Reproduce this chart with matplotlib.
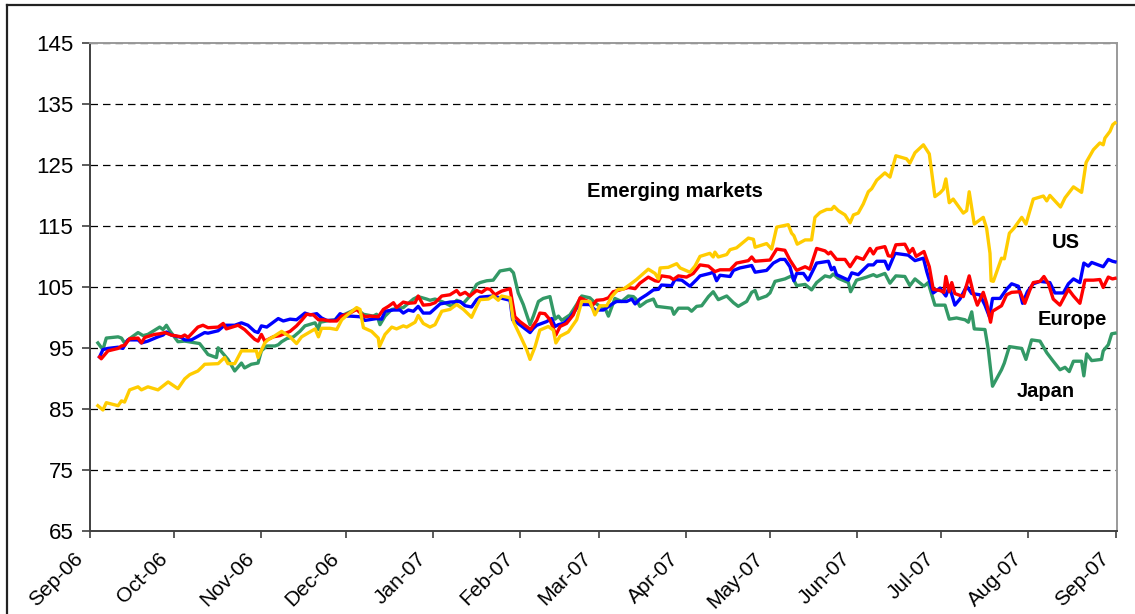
import matplotlib
matplotlib.use("Agg")
import matplotlib.pyplot as plt
import matplotlib.dates as mdates
from matplotlib.lines import Line2D
from matplotlib.transforms import ScaledTranslation
import numpy as np
import datetime as dt

plt.rcParams['font.family'] = ['Liberation Sans', 'DejaVu Sans']

# ---- data: (days since 1 Sep 2006, index value) ----
start_date = dt.datetime(2006, 9, 1)

us = [(3.4,93.5),(4.6,94.7),(6.4,94.9),(10.0,95.1),(11.7,94.9),(13.5,96.3),(17.1,96.3),(18.3,95.8),(20.6,96.1),(24.2,96.8),(26.0,97.1),(27.2,97.6),(28.9,97.1),(32.5,96.7),(33.7,96.3),(36.1,96.3),(39.6,97.2),(40.8,97.5),(42.0,97.4),(45.6,97.8),(47.9,98.7),(51.5,98.7),(53.9,99.1),(56.2,98.7),(58.6,97.7),(59.8,97.5),(61.0,98.6),(62.9,98.4),(67.0,99.8),(68.8,99.4),(71.2,99.7),(73.5,99.6),(76.5,100.7),(78.3,100.4),(80.7,100.6),(82.4,99.9),(84.2,99.5),(87.2,99.5),(89.0,100.6),(90.7,100.2),(92.5,100.2),(96.1,100.1),(97.9,99.5),(102.0,99.8),(103.8,99.7),(105.0,101.0),(108.0,101.2),(110.3,101.2),(111.5,100.7),(113.3,101.2),(115.1,101.0),(116.8,101.8),(118.6,100.7),(121.0,100.7),(124.6,102.2),(128.1,102.5),(131.7,102.6),(133.5,101.9),(135.8,101.7),(137.6,102.9),(138.8,103.3),(143.5,103.5),(145.9,103.2),(149.5,102.8),(150.4,99.6),(151.8,99.2),(156.6,97.5),(157.8,98.2),(159.0,98.7),(162.5,99.3),(164.3,99.8),(165.5,98.5),(166.7,98.8),(168.5,99.0),(170.8,99.9),(173.2,101.5),(174.4,102.1),(177.9,102.1),(179.7,101.2),(182.7,101.2),(186.2,102.3),(187.4,102.6),(191.0,102.6),(192.8,103.0),(194.0,102.2),(195.7,103.0),(198.1,103.7),(200.5,104.5),(202.3,104.6),(203.4,105.3),(207.0,105.2),(208.2,106.2),(210.6,106.1),(213.5,105.1),(215.9,106.2),(217.1,106.8),(220.6,107.2),(221.8,107.4),(223.0,106.0),(224.2,106.9),(227.8,106.7),(229.0,107.7),(231.3,108.1),(235.5,108.5),(236.7,107.4),(240.8,107.7),(243.2,108.9),(245.6,109.5),(247.3,109.5),(249.1,108.3),(250.5,106.0),(251.5,107.2),(253.9,107.2),(255.6,106.1),(258.6,108.9),(262.8,109.2),(263.9,107.8),(264.8,108.2),(265.7,107.0),(269.9,106.1),(271.1,107.3),(273.4,107.0),(277.0,108.6),(278.8,108.6),(280.0,109.2),(282.9,109.2),(284.1,107.9),(286.5,110.5),(291.2,110.2),(293.6,109.3),(296.6,109.7),(297.8,107.5),(300.1,104.0),(302.5,104.8),(304.6,103.5),(305.8,105.1),(307.8,102.0),(309.6,103.0),(312.0,105.1),(313.8,103.9),(316.7,103.7),(318.5,102.0),(320.1,100.1),(321.2,103.1),(323.9,103.1),(326.2,104.6),(328.0,105.5),(330.4,105.1),(331.9,102.3),(333.6,104.2),(335.7,105.5),(338.1,105.9),(341.6,105.7),(343.4,104.0),(346.4,104.0),(348.2,105.5),(350.0,106.3),(352.3,105.7),(353.7,108.9),(355.3,108.4),(356.5,109.0),(360.6,108.3),(362.4,109.5),(363.9,109.2),(364.8,109.1)]

europe = [(3.4,93.5),(4.0,93.2),(6.4,94.5),(10.0,94.9),(11.2,95.3),(12.3,95.4),(14.1,96.5),(17.1,96.6),(18.3,95.8),(19.5,96.7),(23.0,97.2),(24.8,97.3),(26.6,97.5),(28.9,97.1),(32.5,96.8),(33.7,97.1),(34.9,96.7),(38.4,98.4),(40.2,98.7),(42.0,98.3),(45.6,98.4),(47.4,99.0),(48.5,98.1),(52.7,98.7),(55.0,98.0),(58.6,96.4),(59.8,96.1),(61.0,97.2),(62.2,96.1),(65.2,96.8),(67.6,97.0),(71.2,97.7),(73.5,98.6),(75.3,99.5),(77.1,100.5),(79.5,100.4),(81.3,99.6),(83.0,99.6),(85.4,99.4),(87.8,99.4),(89.6,100.2),(92.5,100.7),(94.9,101.3),(96.7,100.5),(97.9,100.1),(99.6,100.2),(102.6,100.1),(104.4,101.3),(106.2,101.8),(108.0,102.4),(109.1,101.6),(111.5,102.5),(113.3,102.3),(115.7,102.4),(116.8,103.5),(118.6,102.0),(121.0,102.1),(122.8,102.4),(125.2,103.5),(128.1,103.7),(130.5,104.4),(131.7,103.7),(133.5,104.1),(135.2,103.5),(137.6,104.4),(139.4,104.1),(141.2,104.7),(142.4,104.6),(144.1,103.7),(146.5,104.3),(149.5,104.7),(151.2,100.1),(153.0,99.3),(156.8,98.0),(159.0,99.5),(160.1,100.7),(161.9,100.6),(163.7,99.6),(165.8,97.1),(167.3,98.5),(169.6,99.0),(172.0,100.4),(174.4,103.2),(177.3,102.6),(179.1,102.1),(180.3,102.8),(182.7,102.9),(184.5,103.2),(186.2,104.2),(188.6,104.5),(191.6,104.9),(194.0,104.7),(195.7,105.6),(198.7,106.6),(201.1,106.0),(202.3,105.9),(203.4,106.8),(206.4,106.6),(207.6,106.2),(209.4,106.8),(212.3,106.6),(214.7,107.2),(217.1,108.6),(220.1,108.4),(222.4,107.5),(224.2,107.8),(227.8,107.8),(230.1,108.9),(234.3,109.3),(235.5,109.9),(236.7,109.2),(242.0,109.4),(244.4,111.2),(247.3,111.0),(249.1,109.4),(251.5,107.7),(254.5,108.3),(256.2,107.9),(258.6,111.3),(261.6,110.9),(262.8,110.4),(263.6,110.7),(265.7,109.5),(268.7,109.5),(270.5,108.3),(272.8,109.9),(275.2,109.5),(277.6,111.3),(278.8,110.4),(280.0,111.3),(282.9,111.6),(284.1,110.1),(285.3,110.0),(286.8,111.9),(290.0,112.0),(291.6,110.6),(292.8,111.3),(294.0,110.0),(296.8,110.8),(298.7,108.3),(300.1,104.6),(302.5,104.4),(303.9,104.1),(304.6,106.7),(305.8,104.2),(306.7,105.7),(307.8,103.9),(310.8,103.4),(312.9,106.8),(313.8,105.1),(314.4,103.9),(315.8,102.0),(317.9,104.1),(319.1,102.3),(320.1,100.1),(320.5,99.2),(321.2,101.0),(324.4,101.9),(326.2,103.7),(328.0,104.1),(331.0,104.2),(332.7,102.3),(334.5,104.5),(335.7,105.7),(338.1,105.9),(339.5,106.7),(341.1,105.5),(342.8,103.0),(345.2,102.0),(348.2,104.6),(350.0,103.5),(352.3,102.3),(354.1,106.1),(357.1,106.1),(359.4,106.2),(360.6,104.9),(362.4,106.6),(363.9,106.3),(364.8,106.4)]

japan = [(2.8,95.8),(4.6,94.7),(5.8,96.6),(10.0,96.8),(11.2,96.6),(12.3,95.8),(14.1,96.5),(17.1,97.5),(18.9,97.0),(20.6,97.2),(24.8,98.4),(26.0,98.0),(27.2,98.7),(28.4,97.8),(31.3,96.0),(33.7,96.1),(39.0,95.7),(40.2,95.0),(42.0,93.9),(45.0,93.4),(45.6,95.0),(49.1,93.1),(51.5,91.2),(53.9,92.5),(55.0,91.7),(57.4,92.3),(59.8,92.5),(61.0,94.5),(62.9,95.3),(65.8,95.3),(67.0,95.5),(68.2,96.0),(70.0,96.5),(72.4,96.8),(74.7,97.7),(76.5,98.6),(80.1,99.1),(81.3,98.0),(81.9,99.2),(84.2,99.4),(87.2,99.6),(88.4,100.2),(90.7,100.5),(94.9,101.4),(97.3,100.5),(100.8,100.2),(102.0,100.5),(103.2,98.8),(105.0,100.2),(107.4,101.3),(111.5,101.6),(115.1,103.0),(116.8,103.4),(119.8,103.0),(121.0,102.8),(122.8,103.0),(125.7,102.5),(128.7,101.8),(130.5,102.8),(132.9,102.3),(135.2,103.5),(137.6,105.4),(138.8,105.7),(141.2,106.0),(143.5,106.1),(145.9,107.6),(149.5,107.9),(150.7,107.3),(152.4,104.0),(154.2,102.1),(156.6,98.8),(157.8,100.2),(159.6,102.6),(161.3,103.1),(163.7,103.4),(165.5,99.7),(166.7,100.2),(167.9,99.5),(170.8,100.4),(173.2,102.1),(175.0,103.5),(177.9,103.2),(179.7,102.4),(181.5,101.8),(183.3,101.5),(184.5,100.2),(186.8,103.1),(189.2,102.6),(191.6,103.5),(193.4,103.4),(194.3,103.0),(195.7,101.8),(198.1,102.6),(200.5,103.0),(201.7,101.8),(205.2,101.6),(207.0,101.5),(207.8,100.5),(209.4,101.5),(212.9,101.5),(214.1,101.0),(215.9,101.8),(217.7,101.9),(220.1,103.4),(221.8,104.2),(223.6,102.9),(226.6,103.5),(229.0,102.4),(230.7,101.8),(233.7,102.6),(235.5,104.1),(236.7,104.4),(237.8,103.0),(240.8,103.5),(242.0,104.0),(243.8,105.9),(247.3,106.3),(249.7,106.8),(251.5,105.2),(254.5,105.4),(256.8,104.5),(258.6,105.7),(261.6,106.8),(263.4,106.6),(264.5,107.1),(266.3,106.4),(269.9,105.7),(270.7,104.2),(272.8,106.1),(276.4,106.6),(278.8,107.0),(280.0,106.7),(282.9,107.2),(284.7,105.6),(286.8,106.8),(290.0,106.7),(291.8,105.2),(293.6,106.3),(296.8,105.1),(298.3,105.7),(300.7,102.0),(304.3,102.0),(305.8,99.7),(308.4,99.9),(311.4,99.6),(312.6,99.2),(313.8,100.9),(314.7,98.1),(318.5,98.0),(319.7,94.7),(321.2,88.7),(324.4,91.4),(325.4,92.5),(327.2,95.2),(331.6,94.9),(333.1,93.1),(335.1,96.3),(338.1,96.1),(340.5,94.2),(342.8,92.8),(345.2,91.4),(347.0,91.8),(348.5,91.1),(350.0,92.8),(352.9,92.8),(353.7,90.4),(354.7,94.0),(356.5,92.9),(360.0,93.1),(360.6,94.5),(362.4,95.5),(363.6,97.3),(364.8,97.4)]

emerging = [(2.8,85.5),(4.6,84.8),(5.8,86.0),(10.0,85.5),(11.2,86.3),(12.3,86.1),(14.1,88.1),(17.1,88.6),(18.3,88.1),(20.6,88.6),(24.2,88.1),(27.8,89.4),(31.3,88.3),(33.7,89.9),(35.5,90.6),(38.4,91.2),(40.2,92.0),(40.8,92.3),(45.6,92.4),(47.9,93.4),(49.1,92.4),(51.5,92.4),(53.9,94.5),(59.2,94.5),(59.8,93.4),(62.2,95.8),(63.3,96.3),(65.2,96.8),(68.2,97.7),(71.2,96.8),(73.5,95.7),(75.3,96.8),(78.3,97.6),(80.1,98.1),(81.3,96.8),(82.4,98.2),(85.4,98.2),(87.8,98.0),(89.6,99.6),(91.9,100.5),(94.9,101.6),(96.1,101.3),(97.3,98.3),(100.2,97.7),(102.6,96.6),(103.0,95.2),(105.0,97.2),(107.4,98.4),(109.1,98.1),(111.5,98.6),(112.7,98.4),(115.7,99.2),(116.8,100.3),(118.6,99.0),(121.0,98.4),(122.8,98.8),(125.2,101.0),(128.1,101.3),(130.5,102.1),(132.9,101.3),(135.8,100.0),(137.6,101.8),(138.8,102.9),(141.8,103.0),(143.5,103.5),(145.3,102.8),(146.5,103.5),(149.5,103.2),(150.7,99.3),(153.6,96.5),(155.4,94.7),(156.6,93.1),(158.4,95.2),(160.1,97.9),(163.1,98.5),(164.9,97.9),(165.8,95.8),(167.3,96.9),(170.2,97.6),(173.2,99.6),(175.0,102.6),(177.9,102.6),(179.7,100.4),(181.5,101.9),(183.9,101.9),(185.7,103.4),(188.0,104.6),(189.8,104.6),(192.8,105.6),(194.5,106.2),(198.7,107.9),(201.1,107.2),(202.3,106.3),(202.9,108.1),(205.8,108.2),(208.8,108.8),(210.0,108.1),(213.5,107.4),(215.3,108.4),(217.1,110.0),(220.6,110.5),(221.8,109.9),(222.4,110.7),(223.6,109.9),(226.6,110.3),(227.8,111.1),(230.1,111.4),(234.3,113.0),(236.1,112.8),(236.7,111.5),(240.8,112.1),(242.6,111.2),(244.4,114.8),(248.5,115.2),(249.7,113.8),(250.5,113.4),(251.7,112.0),(254.5,112.7),(256.8,112.7),(258.0,116.4),(259.8,117.2),(262.2,117.7),(263.9,117.7),(264.8,118.2),(266.3,117.5),(268.7,116.8),(270.5,115.5),(271.7,116.8),(273.4,117.1),(275.2,118.6),(277.0,120.6),(278.2,121.1),(280.0,122.5),(282.9,123.7),(284.7,123.0),(286.8,126.5),(290.6,126.0),(291.8,125.3),(293.6,127.0),(296.6,128.3),(298.7,126.8),(300.7,119.8),(302.5,120.4),(303.7,121.0),(304.6,122.7),(305.8,118.8),(307.2,119.4),(310.8,117.1),(312.0,117.5),(312.9,120.6),(314.7,115.3),(317.9,116.4),(319.1,114.6),(320.3,110.5),(320.7,106.0),(321.5,105.9),(324.4,109.7),(325.4,109.6),(327.2,113.8),(328.8,114.6),(331.6,116.4),(333.1,115.3),(335.7,119.4),(339.3,119.9),(340.5,119.1),(341.6,120.0),(345.4,118.1),(347.0,119.6),(350.0,121.4),(352.9,120.5),(354.5,125.4),(357.1,127.5),(359.4,128.6),(360.6,128.3),(361.2,129.4),(363.0,130.5),(364.0,131.6),(364.8,131.9)]

series_names = ["Japan", "US", "Europe", "Emerging markets"]
series_colors = ["#339966", "#0000FF", "#FF0000", "#FFCC00"]
y_ticks = [65, 75, 85, 95, 105, 115, 125, 135, 145]
# label positions (days, value)
label_pos = {"Emerging markets": (208.2, 120.6), "US": (347.3, 112.2),
             "Europe": (349.5, 99.6), "Japan": (340.2, 87.9)}

# ---- figure ----
fig = plt.figure(figsize=(11.35, 6.14), dpi=100)
ax = fig.add_axes([90/1135, 1-530.7/614, (1117-90)/1135, (530.7-43)/614])

base = mdates.date2num(start_date)
for name, color, data in zip(series_names, series_colors, [japan, us, europe, emerging]):
    d, v = zip(*data)
    ax.plot(base + np.array(d), v, color=color, lw=2.4, solid_joinstyle='round', zorder=3)

for name, (d, v) in label_pos.items():
    ax.text(base + d, v, name, ha='center', va='center', fontsize=14.5,
            fontweight='bold', color='black', zorder=4)

ax.set_ylim(65, 145)
ax.set_yticks(y_ticks)
ax.set_xlim(base + 0, base + 365.5)
ax.xaxis.set_major_locator(mdates.MonthLocator())
ax.xaxis.set_major_formatter(mdates.DateFormatter('%b-%y'))

ax.yaxis.grid(True, linestyle=(0, (6, 4)), color='black', lw=0.9)
ax.set_axisbelow(True)

for s in ['left', 'bottom']:
    ax.spines[s].set_color('#404040')
    ax.spines[s].set_linewidth(1.4)
for s in ['top', 'right']:
    ax.spines[s].set_color('#9a9a9a')
    ax.spines[s].set_linewidth(1.4)

ax.tick_params(axis='y', direction='out', length=6, width=1.2, color='#404040',
               labelsize=16, pad=6)
ax.tick_params(axis='x', direction='out', length=5, width=1.2, color='#404040',
               labelsize=15, pad=13)
offset = ScaledTranslation(-10/100, 0, fig.dpi_scale_trans)
for lab in ax.get_xticklabels():
    lab.set_rotation(45)
    lab.set_rotation_mode('anchor')
    lab.set_ha('right')
    lab.set_va('center')
    lab.set_transform(lab.get_transform() + offset)

# outer frame lines (left and top)
fig.add_artist(Line2D([7/1135, 7/1135], [0, 1-5/614], transform=fig.transFigure,
                      color='#222222', lw=1.6))
fig.add_artist(Line2D([7/1135, 1], [1-5/614, 1-5/614], transform=fig.transFigure,
                      color='#222222', lw=1.6))

fig.savefig("out.png", dpi=100)
